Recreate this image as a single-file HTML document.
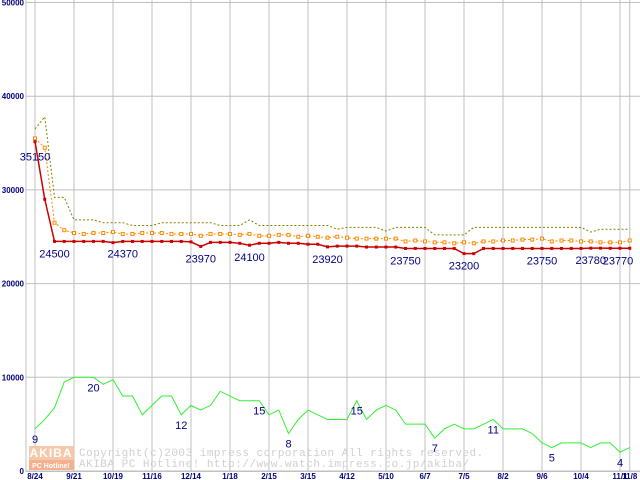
<!DOCTYPE html>
<html><head><meta charset="utf-8"><style>
body{margin:0;background:#fff;}
svg{display:block;font-family:"Liberation Sans",sans-serif;}
</style></head><body>
<svg id="chart" width="640" height="480">
<rect x="0" y="0" width="640" height="480" fill="#fff"/>
<g id="grid"></g>
<g id="wm">
<rect x="29" y="446" width="45" height="14" fill="#f4c8a8"/>
<text x="51" y="457" font-size="12" font-weight="bold" fill="#fff" text-anchor="middle" letter-spacing="1">AKIBA</text>
<rect x="29" y="460" width="45" height="10" fill="#f4b090"/>
<text x="51" y="468" font-size="7" font-weight="bold" fill="#fff" text-anchor="middle">PC Hotline!</text>
<text x="79" y="456" font-family="Liberation Mono" font-size="11" fill="#d0d0d0" letter-spacing="0.5">Copyright(c)2003 impress corporation All rights reserved.</text>
<text x="79" y="467" font-family="Liberation Mono" font-size="11" fill="#d0d0d0" letter-spacing="0.5">AKIBA PC Hotline!  http://www.watch.impress.co.jp/akiba/</text>
</g>
<g id="series"></g>
<g id="labels"></g>
</svg>
<script>
const yTicks=[0,10000,20000,30000,40000,50000];
const xTickLabels=["8/24","9/21","10/19","11/16","12/14","1/18","2/15","3/15","4/12","5/10","6/7","7/5","8/2","9/6","10/4","11/1","11/8"];
const xTickIdx=[0,4,8,12,16,20,24,28,32,36,40,44,48,52,56,60,61];
const minPrice=[35150,29000,24500,24500,24500,24500,24500,24500,24370,24500,24500,24500,24500,24500,24500,24500,24450,23970,24400,24400,24400,24300,24100,24300,24300,24400,24300,24300,24200,24200,23920,24000,24000,24000,23900,23900,23900,23900,23750,23750,23750,23750,23750,23750,23200,23200,23750,23750,23750,23750,23750,23750,23750,23750,23750,23750,23750,23780,23780,23770,23770,23770];
const avgPrice=[35500,34500,26500,25700,25400,25300,25400,25400,25500,25300,25300,25400,25400,25400,25300,25300,25300,25100,25300,25300,25300,25200,25300,25100,25100,25200,25200,25000,25100,25000,24900,25000,24900,24800,24800,24800,24800,24800,24500,24600,24500,24400,24400,24300,24400,24300,24500,24500,24600,24600,24700,24700,24800,24500,24600,24600,24500,24500,24400,24400,24400,24600];
const maxPrice=[36500,37800,29200,29200,26800,26800,26800,26500,26500,26500,26200,26200,26200,26500,26500,26500,26500,26500,26500,26200,26200,26200,26800,26200,26200,26200,26200,26200,26200,26200,26200,25800,26000,26000,26000,26000,25600,26000,26000,26000,26000,25200,25200,25200,25200,26000,26000,26000,26000,26000,26000,26000,26000,26000,26000,26000,26000,25500,25800,25800,25800,25800];
const shopCount=[9,11,13.5,19,20,20,20,18.5,19.5,16,16,12,14,16,16,12,14,13,14,17,16,15,15,15,12,13,8,11,13,12,11,11,11,15,11,13,14,13,10,10,10,7,9,10,9,9,10,11,9,9,9,8,6,5,6,6,6,5,6,6,4,5];
const minLabels=[[0,"35150"],[2,"24500"],[9,"24370"],[17,"23970"],[22,"24100"],[30,"23920"],[38,"23750"],[44,"23200"],[52,"23750"],[57,"23780"],[61,"23770"]];
const countLabels=[[0,"9"],[6,"20"],[15,"12"],[23,"15"],[26,"8"],[33,"15"],[41,"7"],[47,"11"],[53,"5"],[60,"4"]];

const NS="http://www.w3.org/2000/svg";
const X=i=>35+i*9.75;
const Y=v=>471-v*0.00937;
function mk(tag,attrs,parent,txt){const e=document.createElementNS(NS,tag);for(const k in attrs)e.setAttribute(k,attrs[k]);if(txt!==undefined)e.textContent=txt;document.getElementById(parent).appendChild(e);return e;}
yTicks.forEach(v=>{
 const l=mk('line',{x1:26,x2:640,y1:Y(v),y2:Y(v),stroke:'#c0c0c0','stroke-width':1},'grid');
 
 
 const t=mk('text',{x:24,y:Y(v)+3,'font-size':8,'font-weight':'bold',fill:'#000080','text-anchor':'end'},'grid',String(v));
 
 
});
xTickIdx.forEach((i,k)=>{
 const l=mk('line',{x1:X(i),x2:X(i),y1:0,y2:472,stroke:'#c0c0c0','stroke-width':1},'grid');
 
 
 const t=mk('text',{x:X(i),y:479,'font-size':8,'font-weight':'bold',fill:'#000080','text-anchor':'middle'},'grid',xTickLabels[k]);
 
 
});
const ax=mk('line',{x1:26,x2:26,y1:0,y2:472,stroke:'#c0c0c0'},'grid');


const ax2=mk('line',{x1:26,x2:640,y1:471.5,y2:471.5,stroke:'#c0c0c0'},'grid');


function pts(a,f){return a.map((v,i)=>X(i)+','+Y(f?f(v):v)).join(' ');}
const g=mk('polyline',{points:pts(shopCount,v=>v*500),fill:'none',stroke:'#33ee33','stroke-width':1},'series');


const mx=mk('polyline',{points:pts(maxPrice),fill:'none',stroke:'#808000','stroke-width':1,'stroke-dasharray':'2,2'},'series');


const av=mk('polyline',{points:pts(avgPrice),fill:'none',stroke:'#ff8800','stroke-width':1,'stroke-dasharray':'2,2'},'series');


avgPrice.forEach((v,i)=>{const r=mk('rect',{x:X(i)-1.5,y:Y(v)-1.5,width:3,height:3,fill:'#fff',stroke:'#ff8800','stroke-width':1},'series');
 
 });
const mn=mk('polyline',{points:pts(minPrice),fill:'none',stroke:'#cc0000','stroke-width':1.5},'series');


minPrice.forEach((v,i)=>{const r=mk('rect',{x:X(i)-1.5,y:Y(v)-1.5,width:3,height:3,fill:'#cc0000'},'series');
 
 });
minLabels.forEach(([i,s])=>{const t=mk('text',{x:i===0?X(i):Math.min(X(i),618),y:i===0?Y(minPrice[i])+19:Y(minPrice[i])+16,'font-size':11,fill:'#000080','text-anchor':'middle'},'labels',s);
 
 });
countLabels.forEach(([i,s])=>{const t=mk('text',{x:X(i),y:Y(shopCount[i]*500)+14,'font-size':11,fill:'#000080','text-anchor':'middle'},'labels',s);
 
 });
</script>
</body></html>
